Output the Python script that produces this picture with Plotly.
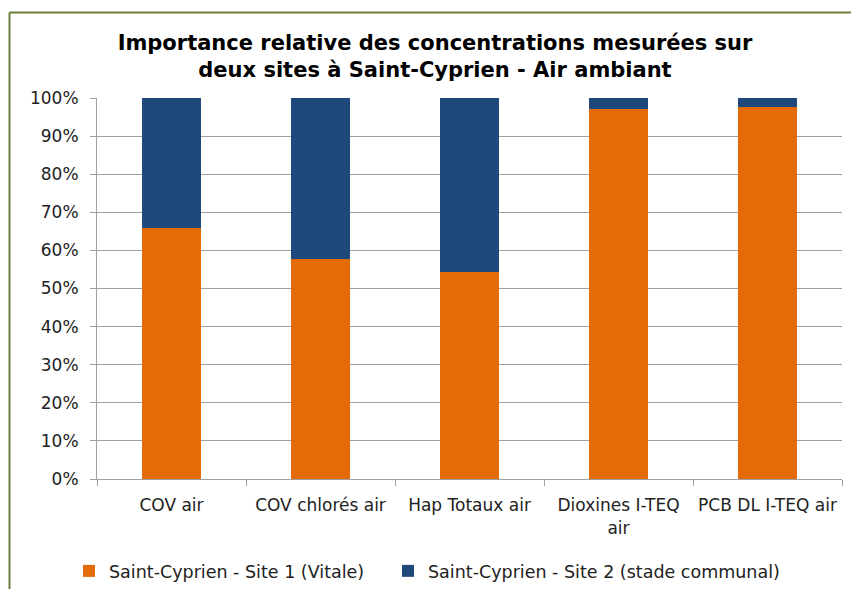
import plotly.graph_objects as go

categories = ["COV air", "COV chlorés air", "Hap Totaux air", "Dioxines I-TEQ<br>air", "PCB DL I-TEQ air"]
site1_share = [66.0, 57.7, 54.3, 97.1, 97.7]
site2_share = [100 - v for v in site1_share]
site1_name = "Saint-Cyprien - Site 1 (Vitale)"
site2_name = "Saint-Cyprien - Site 2 (stade communal)"
y_ticks = list(range(0, 101, 10))
y_tick_labels = [f"{v}%" for v in y_ticks]

W, H = 851, 589
ML, MR, MT, MB = 97, 9, 98, 110
PW = W - ML - MR
PH = H - MT - MB


def px_x(px):
    """Convert a horizontal pixel position to paper coordinates."""
    return (px - ML) / PW


def px_y(py):
    """Convert a vertical pixel position (from top) to paper coordinates."""
    return (H - MB - py) / PH


fig = go.Figure()
fig.add_trace(go.Bar(x=categories, y=site1_share, name=site1_name,
                     marker=dict(color="#E36C09", line=dict(width=0)),
                     legend="legend"))
fig.add_trace(go.Bar(x=categories, y=site2_share, name=site2_name,
                     marker=dict(color="#1F497D", line=dict(width=0)),
                     legend="legend2"))

font_family = "DejaVu Sans, Verdana, sans-serif"
frame_color = "#6A7F3A"
legend_font = dict(size=17.5, color="#222222")

fig.update_layout(
    width=W, height=H,
    margin=dict(l=ML, r=MR, t=MT, b=MB, autoexpand=False),
    showlegend=True,
    barmode="stack",
    bargap=0.6,
    plot_bgcolor="white",
    paper_bgcolor="white",
    font=dict(family=font_family, size=17, color="#222222"),
    title=dict(
        text="<b>Importance relative des concentrations mesurées sur<br>deux sites à Saint-Cyprien - Air ambiant</b>",
        x=px_x(435), xref="paper", xanchor="center",
        y=1 - 50 / H, yanchor="middle",
        font=dict(family=font_family, size=21, color="#000000"),
    ),
    xaxis=dict(
        showline=True, linecolor="#A0A0A0", linewidth=1,
        ticks="outside", tickson="boundaries", ticklen=6, tickcolor="#A0A0A0",
        ticklabelstandoff=11,
        tickfont=dict(size=17, color="#222222"),
        showgrid=False,
    ),
    yaxis=dict(
        range=[0, 100],
        tickvals=y_ticks, ticktext=y_tick_labels,
        showline=True, linecolor="#A0A0A0", linewidth=1,
        ticks="outside", ticklen=6, tickcolor="#A0A0A0",
        ticklabelstandoff=8,
        showgrid=True, gridcolor="#A0A0A0", gridwidth=1,
        tickfont=dict(size=17, color="#222222"),
        zeroline=False,
    ),
    legend=dict(
        orientation="h",
        x=px_x(69), xanchor="left",
        y=px_y(571), yanchor="middle",
        font=legend_font,
        visible=True,
    ),
    legend2=dict(
        orientation="h",
        x=px_x(388), xanchor="left",
        y=px_y(571), yanchor="middle",
        font=legend_font,
        visible=True,
    ),
    shapes=[
        # olive frame around the chart area (top and left edges)
        dict(type="line", xref="paper", yref="paper",
             x0=px_x(9.5), x1=px_x(W + 5),
             y0=px_y(12.5), y1=px_y(12.5),
             line=dict(color=frame_color, width=2)),
        dict(type="line", xref="paper", yref="paper",
             x0=px_x(9.5), x1=px_x(9.5),
             y0=px_y(12.5), y1=px_y(H + 5),
             line=dict(color=frame_color, width=2)),
    ],
)

fig.write_html("out.html")
